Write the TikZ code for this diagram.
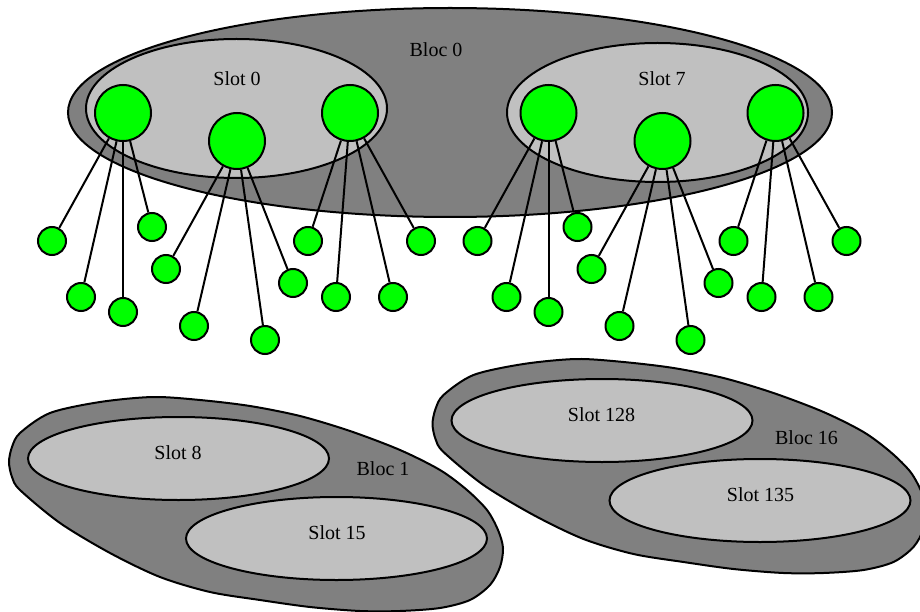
\documentclass[tikz,border=0pt]{standalone}
\usepackage{fontspec}
\setmainfont{Liberation Serif}
\usetikzlibrary{shapes.geometric}
\definecolor{blocgris}{HTML}{808080}
\definecolor{slotgris}{HTML}{C0C0C0}
\definecolor{vert}{HTML}{00FF00}
\tikzset{
  bloc/.style={ellipse, draw, line width=2pt, fill=blocgris, inner sep=0pt},
  contour/.style={draw, line width=2pt, fill=blocgris},
  slot/.style={ellipse, draw, line width=2pt, fill=slotgris, inner sep=0pt,
               minimum width=301pt, minimum height=#1},
  proc/.style={circle, draw, line width=2pt, fill=vert, inner sep=0pt, minimum size=56pt},
  fil/.style={circle, draw, line width=2pt, fill=vert, inner sep=0pt, minimum size=28pt},
  lien/.style={line width=2pt},
  etiq/.style={font=\fontsize{20}{24}\selectfont, inner sep=0pt},
}

\begin{document}
\begin{tikzpicture}[x=1pt, y=-1pt]
  \useasboundingbox (0,0) rectangle (920,612);
  % bloc 0 : deux slots detailles
  \node[bloc, minimum width=764pt, minimum height=209pt] (b0) at (450,112.5) {};
  \node[etiq] (b0t) at (436,50) {Bloc 0};
  \node[slot=139pt] (s0) at (236.5,108.5) {};
  \node[slot=139pt] (s7) at (657.5,112.5) {};
  \node[etiq] (s0t) at (237,79) {Slot 0};
  \node[etiq] (s7t) at (662,79) {Slot 7};
  \foreach \s/\dx in {0/0, 7/425.5} {
    \begin{scope}[xshift=\dx]
      \node[proc] (p\s-a) at (123,113) {};
      \node[proc] (p\s-b) at (237,141) {};
      \node[proc] (p\s-c) at (350,113) {};
      \foreach \p/\x/\y [count=\i] in {a/52/241, a/81/297, a/123/312, a/152/227,
                                      b/166/269, b/194/326, b/265/340, b/293/283,
                                      c/308/241, c/336/297, c/393/297, c/421/241} {
        \node[fil] (f\s-\i) at (\x,\y) {};
        \draw[lien] (p\s-\p) -- (f\s-\i);
      }
    \end{scope}
  }
  % blocs 1 et 16
  \foreach \b/\sa/\sb/\dx/\dy/\ly in {1/8/15/0/0/469, 16/128/135/423.5/-38/476} {
    \begin{scope}[shift={(\dx,\dy)}]
      \draw[contour] plot[smooth cycle] coordinates {
        (9,462) (12,447) (20,433) (50,413) (100,402) (153,397) (200,400) (250,406)
        (300,416) (350,431) (400,450) (440,470) (467,490) (487,510) (498,530)
        (503,548) (500,567) (490,585) (470,600) (440,608) (400,611) (360,611)
        (310,607) (260,600) (210,592) (160,577) (110,553) (60,523) (20,490)
        (12,477)};
      \node[etiq] (b\b t) at (383,\ly) {Bloc \b};
      \node[slot=83pt] (s\sa) at (178.5,458.5) {};
      \node[slot=83pt] (s\sb) at (336.5,538.5) {};
      \node[etiq] (s\sa t) at (178,453) {Slot \sa};
      \node[etiq] (s\sb t) at (337,533) {Slot \sb};
    \end{scope}
  }
\end{tikzpicture}
\end{document}
